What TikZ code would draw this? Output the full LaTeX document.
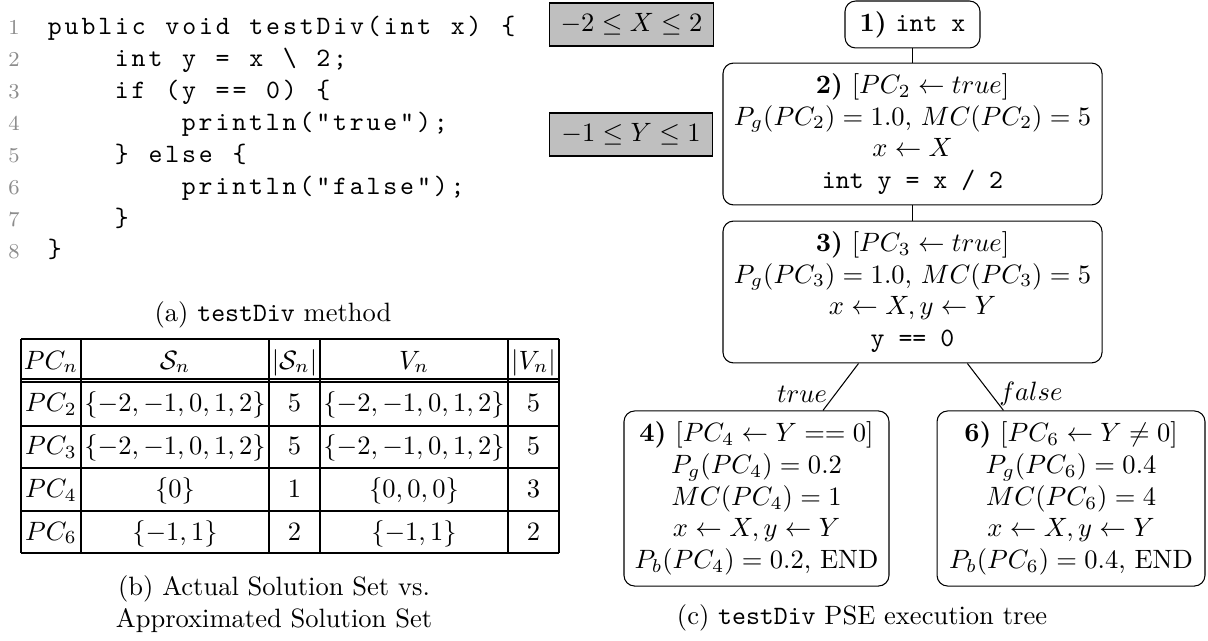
\documentclass[tikz,border=0pt]{standalone}
\usepackage{amsmath,amssymb}
\usepackage{xcolor}
\usepackage{tikz}
% fixed-pitch code columns, one box per character (~ stands for a blank)
\newcommand\codestop{\relax}
\newcommand\codestep[1]{\ifx#1\codestop\else\makebox[6.33pt]{#1}\expandafter\codestep\fi}
\newcommand\codechars[1]{\codestep#1\codestop}
\tikzset{
  pse/.style={draw=black, rounded corners=4pt, align=center, inner sep=0pt},
  rng/.style={draw=black, fill=gray!50, minimum width=61.5pt,
              minimum height=16.2pt, inner sep=1pt},
  elab/.style={inner sep=3pt},
  cell/.style={anchor=base, inner sep=0pt},
  subcap/.style={align=center, inner sep=0pt},
  codeline/.style={anchor=base west, inner sep=0pt, font=\ttfamily},
  lnum/.style={anchor=base, inner sep=0pt, text=black!45, font=\footnotesize}
}
\begin{document}
\begin{tikzpicture}[x=0.377pt, y=-0.377pt]
  \useasboundingbox (0,0) rectangle (1208,641);
  % (a) listing
  \foreach \k [evaluate=\k as \yy using 35+31.86*(\k-1)] in {1,...,8}
    \node[lnum] (k\k) at (14,\yy) {\k};
  \node[codeline] (l1) at (46,35) {\codechars{public~void~testDiv(int~x)~\{}};
  \node[codeline] (l2) at (113,66.9) {\codechars{int~y~=~x~\textbackslash~2;}};
  \node[codeline] (l3) at (113,98.7) {\codechars{if~(y~==~0)~\{}};
  \node[codeline] (l4) at (180,130.6) {\codechars{println("true");}};
  \node[codeline] (l5) at (113,162.4) {\codechars{\}~else~\{}};
  \node[codeline] (l6) at (180,194.3) {\codechars{println("false");}};
  \node[codeline] (l7) at (113,226.2) {\codechars{\}}};
  \node[codeline] (l8) at (46,258) {\codechars{\}}};
  \node[subcap] (capa) at (273,315) {(a) \texttt{testDiv} method};

  % (b) table
  \foreach \yy in {339,426,468,511,553}
    \draw (21,\yy) -- (559,\yy);
  \draw (21,379) -- (559,379);
  \draw (21,382) -- (559,382);
  \foreach \xx in {21,81,269,320,508,559}
    \draw (\xx,339) -- (\xx,553);
  \foreach \cx/\txt [count=\i] in {51/{$PC_n$}, 175/{$\mathcal{S}_n$},
      294.5/{$|\mathcal{S}_n|$}, 414/{$V_n$}, 533.5/{$|V_n|$}}
    \node[cell] (h\i) at (\cx,369) {\txt};
  \foreach \cx/\txt [count=\i] in {51/{$PC_2$}, 175/{$\{-2,-1,0,1,2\}$},
      294.5/{$5$}, 414/{$\{-2,-1,0,1,2\}$}, 533.5/{$5$}}
    \node[cell] (r2\i) at (\cx,412) {\txt};
  \foreach \cx/\txt [count=\i] in {51/{$PC_3$}, 175/{$\{-2,-1,0,1,2\}$},
      294.5/{$5$}, 414/{$\{-2,-1,0,1,2\}$}, 533.5/{$5$}}
    \node[cell] (r3\i) at (\cx,454.5) {\txt};
  \foreach \cx/\txt [count=\i] in {51/{$PC_4$}, 175/{$\{0\}$},
      294.5/{$1$}, 414/{$\{0,0,0\}$}, 533.5/{$3$}}
    \node[cell] (r4\i) at (\cx,497.5) {\txt};
  \foreach \cx/\txt [count=\i] in {51/{$PC_6$}, 175/{$\{-1,1\}$},
      294.5/{$2$}, 414/{$\{-1,1\}$}, 533.5/{$2$}}
    \node[cell] (r6\i) at (\cx,540) {\txt};
  \node[subcap] (capb) at (274,604.5) {(b) Actual Solution Set vs.\\ Approximated Solution Set};

  % (c) execution tree
  \node[rng] (rx) at (631.5,24.5) {$-2 \le X \le 2$};
  \node[rng] (ry) at (631,134.5) {$-1 \le Y \le 1$};
  \node[pse, minimum width=50.9pt, minimum height=17.7pt] (n1) at (912.5,24.5)
    {\textbf{1)} \texttt{int x}};
  \node[pse, minimum width=142.9pt, minimum height=53.5pt] (n2) at (912.5,134)
    {\textbf{2)} $[PC_2 \leftarrow true]$\\
     $P_g(PC_2) = 1.0$, $MC(PC_2) = 5$\\
     $x \leftarrow X$\\
     \texttt{int y = x / 2}};
  \node[pse, minimum width=142.9pt, minimum height=53.5pt] (n3) at (912.5,292)
    {\textbf{3)} $[PC_3 \leftarrow true]$\\
     $P_g(PC_3) = 1.0$, $MC(PC_3) = 5$\\
     $x \leftarrow X, y \leftarrow Y$\\
     \texttt{y == 0}};
  \node[pse, minimum width=99.9pt, minimum height=66pt] (n4) at (756.5,498.5)
    {\textbf{4)} $[PC_4 \leftarrow Y == 0]$\\
     $P_g(PC_4) = 0.2$\\
     $MC(PC_4) = 1$\\
     $x \leftarrow X, y \leftarrow Y$\\
     $P_b(PC_4) = 0.2$, END};
  \node[pse, minimum width=101pt, minimum height=66pt] (n6) at (1071,498.5)
    {\textbf{6)} $[PC_6 \leftarrow Y \neq 0]$\\
     $P_g(PC_6) = 0.4$\\
     $MC(PC_6) = 4$\\
     $x \leftarrow X, y \leftarrow Y$\\
     $P_b(PC_6) = 0.4$, END};
  \draw (n1) -- (n2);
  \draw (n2) -- (n3);
  \draw (n3) -- node[elab, pos=0.65, left] (et) {$true$} (n4);
  \draw (n3) -- node[elab, pos=0.65, right] (ef) {$false$} (n6);
  \node[subcap] (capc) at (862,618) {(c) \texttt{testDiv} PSE execution tree};
\end{tikzpicture}
\end{document}
